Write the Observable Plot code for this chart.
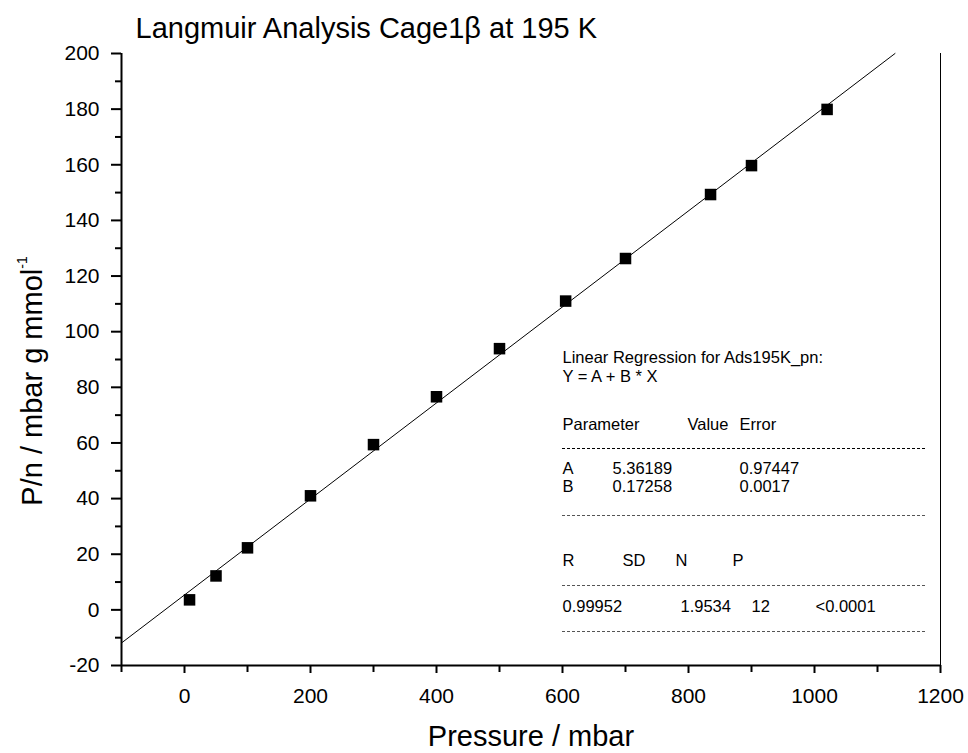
<!DOCTYPE html>
<html><head><meta charset="utf-8">
<script src="https://cdn.jsdelivr.net/npm/d3@7"></script>
<script src="https://cdn.jsdelivr.net/npm/@observablehq/plot@0.6"></script>
<style>
html,body{margin:0;padding:0;background:#fff;}
#chart{width:968px;height:753px;}
svg{overflow:visible;}
</style></head><body><div id="chart"></div>
<script>
// ---- data ----
const pressure = [8, 50, 100, 200, 300, 400, 500, 605, 700, 835, 900, 1020];
const pn = [3.6, 12.2, 22.3, 41.0, 59.4, 76.6, 93.9, 111.0, 126.3, 149.3, 159.7, 179.9];
const xTicks = [0, 200, 400, 600, 800, 1000, 1200];
const xMinor = [-100, 100, 300, 500, 700, 900, 1100];
const yTicks = [-20, 0, 20, 40, 60, 80, 100, 120, 140, 160, 180, 200];
const yMinor = [-10, 10, 30, 50, 70, 90, 110, 130, 150, 170, 190];
const fitA = 5.36189, fitB = 0.17258;
const titleText = "Langmuir Analysis Cage1β at 195 K";
const xLabel = "Pressure / mbar";
const yLabel = "P/n / mbar g mmol";
const yLabelSup = "-1";
const regHead = ["Linear Regression for Ads195K_pn:", "Y = A + B * X"];
const paramHead = ["Parameter", "Value", "Error"];
const paramRows = [["A", "5.36189", "0.97447"], ["B", "0.17258", "0.0017"]];
const statHead = ["R", "SD", "N", "P"];
const statRow = ["0.99952", "1.9534", "12", "<0.0001"];

// ---- layout ----
const W = 968, H = 753, mL = 121, mR = 28, mT = 53, mB = 88;
const xDom = [-100, 1200], yDom = [-20, 200];
const fx = px => xDom[0] + (px - mL) / (W - mL - mR) * (xDom[1] - xDom[0]);
const fy = py => yDom[0] + (H - mB - py) / (H - mT - mB) * (yDom[1] - yDom[0]);
const FONT = "'Liberation Sans', Arial, Helvetica, sans-serif";

const points = pressure.map((p, i) => ({x: p, y: pn[i]}));
const fitPts = [xDom[0], (yDom[1] - fitA) / fitB].map(x => ({x, y: fitA + fitB * x}));

// table cells
const cells = [];
cells.push({px: 562, py: 357, t: regHead[0]});
cells.push({px: 562, py: 376, t: regHead[1]});
[562, 687, 739].forEach((px, i) => cells.push({px, py: 424, t: paramHead[i]}));
paramRows.forEach((row, r) => [562, 612, 739].forEach((px, i) => cells.push({px, py: 468 + r * 18.5, t: row[i]})));
[562, 622, 675, 732].forEach((px, i) => cells.push({px, py: 560, t: statHead[i]}));
[562, 680, 751, 815].forEach((px, i) => cells.push({px, py: 606, t: statRow[i]}));
const dashMain = [448], dashOther = [515, 585, 631];

const svg = Plot.plot({
  width: W, height: H, marginLeft: mL, marginRight: mR, marginTop: mT, marginBottom: mB,
  x: {domain: xDom}, y: {domain: yDom},
  style: {fontFamily: FONT, fontSize: "21px", color: "#000", background: "#fff"},
  marks: [
    Plot.axisX({ticks: xTicks, tickSize: 8, tickPadding: 15, strokeWidth: 2, label: null, tickFormat: d => String(d), fontSize: 21}),
    Plot.axisX({ticks: xMinor, tickSize: 7, strokeWidth: 2, text: null, label: null}),
    Plot.axisY({ticks: yTicks, tickSize: 10, tickPadding: 12, strokeWidth: 2, label: null, tickFormat: d => String(d), fontSize: 21}),
    Plot.axisY({ticks: yMinor, tickSize: 6, strokeWidth: 2, text: null, label: null}),
    Plot.ruleY([yDom[0]], {stroke: "#000", strokeWidth: 2}),
    Plot.ruleX([xDom[0]], {stroke: "#000", strokeWidth: 2}),
    Plot.ruleX([xDom[1]], {stroke: "#000", strokeWidth: 1}),
    Plot.line(fitPts, {x: "x", y: "y", stroke: "#000", strokeWidth: 1}),
    Plot.dot(points, {x: "x", y: "y", symbol: "square", r: 6.5, fill: "#000", stroke: "none"}),
    Plot.ruleY(dashMain, {y: d => fy(d), x1: fx(562), x2: fx(927), stroke: "#000", strokeWidth: 1.2, strokeDasharray: "3,2"}),
    Plot.ruleY(dashOther, {y: d => fy(d), x1: fx(562), x2: fx(927), stroke: "#555", strokeWidth: 1, strokeDasharray: "3,2"}),
    Plot.text(cells, {x: d => fx(d.px), y: d => fy(d.py), text: "t", textAnchor: "start", fontSize: 16.5, fill: "#000"}),
    Plot.text([titleText], {frameAnchor: "top-left", dx: 14, dy: -25, lineAnchor: "middle", textAnchor: "start", fontSize: 29, fill: "#000"}),
    Plot.text([xLabel], {frameAnchor: "bottom", dy: 71, lineAnchor: "middle", fontSize: 29, fill: "#000"})
  ]
});

const yl = d3.select(svg).append("text")
  .attr("transform", "translate(42,381) rotate(-90)")
  .attr("text-anchor", "middle")
  .attr("font-family", FONT)
  .attr("font-size", 29)
  .attr("fill", "#000");
yl.append("tspan").text(yLabel);
yl.append("tspan").attr("font-size", 14).attr("dy", -15).text(yLabelSup);

document.getElementById("chart").appendChild(svg);
</script></body></html>
